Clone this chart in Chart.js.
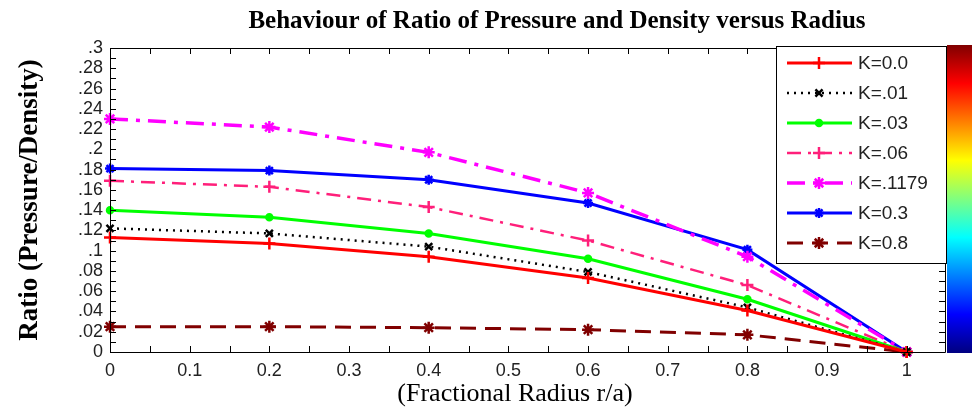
<!DOCTYPE html>
<html>
<head>
<meta charset="utf-8">
<script src="https://cdn.jsdelivr.net/npm/chart.js@4/dist/chart.umd.min.js"></script>
<style>
  html, body { margin: 0; padding: 0; background: #fff; }
  #wrap { width: 978px; height: 411px; }
</style>
</head>
<body>
<div id="wrap"><canvas id="chart" width="978" height="411"></canvas></div>
<script>
// dati
const radius = [0, 0.2, 0.4, 0.6, 0.8, 1];
const seriesLabels = ['K=0.0', 'K=.01', 'K=.03', 'K=.06', 'K=.1179', 'K=0.3', 'K=0.8'];
const k00 = [0.113, 0.107, 0.094, 0.073, 0.041, 0];
const k01 = [0.122, 0.117, 0.104, 0.079, 0.044, 0];
const k03 = [0.140, 0.133, 0.117, 0.092, 0.052, 0];
const k06 = [0.169, 0.163, 0.143, 0.110, 0.066, 0];
const k1179 = [0.230, 0.222, 0.197, 0.157, 0.094, 0];
const k3 = [0.181, 0.179, 0.170, 0.147, 0.101, 0];
const k8 = [0.025, 0.025, 0.024, 0.022, 0.017, 0];

const xTickLabels = ['0', '0.1', '0.2', '0.3', '0.4', '0.5', '0.6', '0.7', '0.8', '0.9', '1'];
const yTickLabels = ['0', '.02', '.04', '.06', '.08', '.1', '.12', '.14', '.16', '.18', '.2', '.22', '.24', '.26', '.28', '.3'];

const tickFont = { family: "'Liberation Sans Narrow', 'Liberation Sans', Arial, sans-serif", size: 18 };
const serif = "'Liberation Serif', 'Times New Roman', serif";

function pts(vals) {
    return vals.map((v, i) => ({ x: radius[i], y: v }));
}

// stile di ogni serie
const styles = [
    { color: '#ff0000', dash: [], point: 'cross', r: 6, w: 3 },
    { color: '#000000', dash: [2, 5], point: 'crossRot', r: 5, w: 2.5 },
    { color: '#00ff00', dash: [], point: 'circle', r: 3, w: 3 },
    { color: '#ff1f7a', dash: [14, 7, 3, 7], point: 'cross', r: 6, w: 2.5 },
    { color: '#ff00ff', dash: [18, 8, 4, 8], point: 'star', r: 6, w: 3.5 },
    { color: '#0000ff', dash: [], point: 'star', r: 5, w: 3 },
    { color: '#800000', dash: [16, 9], point: 'star', r: 6, w: 3 }
];
const allValues = [k00, k01, k03, k06, k1179, k3, k8];

const datasets = allValues.map((vals, i) => {
    let s = styles[i];
    return {
        label: seriesLabels[i],
        data: pts(vals),
        borderColor: s.color,
        backgroundColor: s.color,
        borderWidth: s.w,
        borderDash: s.dash,
        pointStyle: s.point,
        pointRadius: s.r,
        pointBorderWidth: 2.5,
        pointBorderColor: s.color,
        pointBackgroundColor: s.color,
        fill: false,
        tension: 0,
        clip: false
    };
});

// cornice, tacche interne, barra colori, legenda, titoli
const decor = {
    id: 'decor',
    afterDraw(chart) {
        const ctx = chart.ctx;
        const a = chart.chartArea;
        const xs = chart.scales.x, ys = chart.scales.y;
        ctx.save();
        ctx.strokeStyle = '#000';
        ctx.lineWidth = 1;
        ctx.beginPath();
        ctx.rect(Math.round(a.left) + 0.5, Math.round(a.top) + 0.5, Math.round(a.right - a.left), Math.round(a.bottom - a.top));
        for (let i = 0; i <= 21; i++) {
            let px = Math.round(xs.getPixelForValue(i * 0.05)) + 0.5;
            ctx.moveTo(px, a.bottom); ctx.lineTo(px, a.bottom - 6);
            ctx.moveTo(px, a.top); ctx.lineTo(px, a.top + 6);
        }
        for (let i = 0; i <= 30; i++) {
            let py = Math.round(ys.getPixelForValue(i * 0.01)) + 0.5;
            ctx.moveTo(a.left, py); ctx.lineTo(a.left + 6, py);
            ctx.moveTo(a.right, py); ctx.lineTo(a.right - 6, py);
        }
        ctx.stroke();

        // barra colori (jet)
        const cbX = 947, cbW = 25, cbTop = 45, cbBot = 353;
        const g = ctx.createLinearGradient(0, cbBot, 0, cbTop);
        g.addColorStop(0, '#000080');
        g.addColorStop(0.125, '#0000ff');
        g.addColorStop(0.375, '#00ffff');
        g.addColorStop(0.625, '#ffff00');
        g.addColorStop(0.875, '#ff0000');
        g.addColorStop(1, '#800000');
        ctx.fillStyle = g;
        ctx.fillRect(cbX, cbTop, cbW, cbBot - cbTop);

        // legenda
        const lx = 776, ly = 46, lw = 170, lh = 217;
        ctx.fillStyle = '#fff';
        ctx.fillRect(lx, ly, lw, lh);
        ctx.strokeStyle = '#000';
        ctx.lineWidth = 1;
        ctx.strokeRect(lx + 0.5, ly + 0.5, lw, lh);
        ctx.font = "19px " + tickFont.family;
        ctx.textBaseline = 'middle';
        ctx.textAlign = 'left';
        chart.data.datasets.forEach((ds, i) => {
            let y = 63 + i * 30;
            ctx.strokeStyle = ds.borderColor;
            ctx.lineWidth = ds.borderWidth;
            ctx.setLineDash(ds.borderDash);
            ctx.beginPath();
            ctx.moveTo(787, y); ctx.lineTo(852, y);
            ctx.stroke();
            ctx.setLineDash([]);
            ctx.fillStyle = ds.pointBackgroundColor;
            ctx.strokeStyle = ds.pointBorderColor;
            ctx.lineWidth = ds.pointBorderWidth;
            Chart.helpers.drawPoint(ctx, { pointStyle: ds.pointStyle, radius: ds.pointRadius, borderWidth: ds.pointBorderWidth, rotation: 0 }, 819, y);
            ctx.fillStyle = '#222';
            ctx.fillText(ds.label, 858, y + 1);
        });

        // titolo e titolo asse x
        ctx.fillStyle = '#000';
        ctx.font = "bold 25px " + serif;
        ctx.textAlign = 'center';
        ctx.textBaseline = 'alphabetic';
        ctx.fillText('Behaviour of Ratio of Pressure and Density versus Radius', 557, 28);
        ctx.font = "26px " + serif;
        ctx.fillText('(Fractional Radius r/a)', 515, 401);
        ctx.restore();
    }
};

const ctx = document.getElementById('chart').getContext('2d');
const chart = new Chart(ctx, {
    type: 'line',
    data: { datasets },
    options: {
        responsive: false,
        animation: false,
        layout: { padding: { left: 0, right: 33, top: 48, bottom: 0 } },
        plugins: { legend: { display: false }, title: { display: false }, tooltip: { enabled: false } },
        scales: {
            x: {
                type: 'linear', min: 0, max: 1.048,
                grid: { display: false, drawTicks: false },
                border: { display: false },
                afterBuildTicks: s => { s.ticks = xTickLabels.map(t => ({ value: parseFloat(t) })); },
                afterFit: s => { s.height = 59; },
                ticks: {
                    color: '#222', font: tickFont, padding: 8, maxRotation: 0, autoSkip: false,
                    callback: (v, i) => xTickLabels[i]
                },
                title: { display: false }
            },
            y: {
                min: 0, max: 0.3,
                grid: { display: false, drawTicks: false },
                border: { display: false },
                afterBuildTicks: s => { s.ticks = yTickLabels.map(t => ({ value: parseFloat(t) })); },
                afterFit: s => { s.width = 110; },
                ticks: {
                    color: '#222', font: tickFont, padding: 7, autoSkip: false,
                    callback: (v, i) => yTickLabels[i]
                },
                title: { display: true, text: 'Ratio (Pressure/Density)', color: '#000', font: { family: serif, size: 27, weight: 'bold' }, padding: { top: 14 } }
            }
        }
    },
    plugins: [decor]
});
</script>
</body>
</html>
